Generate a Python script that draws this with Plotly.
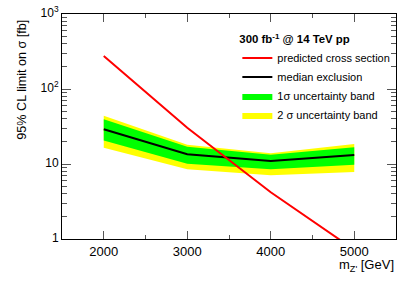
import plotly.graph_objects as go

mass = [2000, 3000, 4000, 5000]
xsec_pred = [275, 30.5, 4.2, 0.72]
median = [29, 13.5, 11, 13.2]
band1_lo = [20.5, 10.1, 8.5, 9.8]
band1_hi = [39.5, 17, 13.3, 16.7]
band2_lo = [16.5, 8.5, 7.1, 7.8]
band2_hi = [44, 18, 13.9, 18.5]
y_tickvals = [1, 10, 100, 1000]
y_ticktext = ["1", "10", "10<sup>2</sup>", "10<sup>3</sup>"]
x_tickvals = [2000, 3000, 4000, 5000]

FONT = "Liberation Sans, Arial, Helvetica, sans-serif"

fig = go.Figure()
fig.add_trace(go.Scatter(
    x=mass + mass[::-1], y=band2_hi + band2_lo[::-1], fill="toself",
    fillcolor="#ffff00", line=dict(width=0, color="#ffff00"), mode="lines",
    name="2 σ uncertainty band", legendrank=4, hoverinfo="skip"))
fig.add_trace(go.Scatter(
    x=mass + mass[::-1], y=band1_hi + band1_lo[::-1], fill="toself",
    fillcolor="#00ff00", line=dict(width=0, color="#00ff00"), mode="lines",
    name="1σ uncertainty band", legendrank=3, hoverinfo="skip"))
fig.add_trace(go.Scatter(
    x=mass, y=median, mode="lines", line=dict(color="black", width=2),
    name="median exclusion", legendrank=2))
fig.add_trace(go.Scatter(
    x=mass, y=xsec_pred, mode="lines", line=dict(color="#ff0000", width=2),
    name="predicted cross section", legendrank=1))

fig.update_layout(
    width=416, height=282,
    margin=dict(l=62, r=20, t=14, b=43),
    paper_bgcolor="white", plot_bgcolor="white",
    font=dict(family=FONT, size=13, color="black"),
    showlegend=True,
    legend=dict(
        x=0.525, y=0.935, xanchor="left", yanchor="top",
        bgcolor="rgba(0,0,0,0)", font=dict(size=11),
        title=dict(text="<b>300 fb<sup>-1</sup> @ 14 TeV pp</b>", font=dict(size=11.4)),
        tracegroupgap=0, itemwidth=30,
    ),
)
fig.update_xaxes(
    range=[1500, 5500], tickvals=x_tickvals,
    ticks="inside", ticklen=8, tickcolor="#555", tickwidth=1,
    minor=dict(dtick=500, ticks="inside", ticklen=4, tickcolor="#555"),
    showline=True, linecolor="black", linewidth=1, mirror="ticks",
    showgrid=False, zeroline=False, tickfont=dict(size=13), automargin=False,
)
fig.update_yaxes(
    type="log", range=[0, 3],
    tickvals=y_tickvals, ticktext=y_ticktext,
    ticks="inside", ticklen=9, tickcolor="#555", tickwidth=1,
    minor=dict(dtick="D1", ticks="inside", ticklen=5, tickcolor="#555"),
    showline=True, linecolor="black", linewidth=1, mirror="ticks",
    showgrid=False, zeroline=False, tickfont=dict(size=12), automargin=False,
    ticklabeloverflow="allow", ticklabelshift=-1,
)
fig.add_annotation(
    text="m<sub>Z'</sub> [GeV]", xref="paper", yref="paper",
    x=1, y=-0.116, xanchor="right", yanchor="middle", showarrow=False,
    font=dict(size=13))
fig.add_annotation(
    text="95% CL limit on σ [fb]", xref="paper", yref="paper",
    x=-0.121, y=0.982, xanchor="center", yanchor="top", textangle=-90,
    showarrow=False, font=dict(size=12.6))

# remove the default 8px page margin so the figure fills the window exactly
fig.write_html("out.html", config={"displayModeBar": False},
               post_script="document.body.style.margin='0px';")
